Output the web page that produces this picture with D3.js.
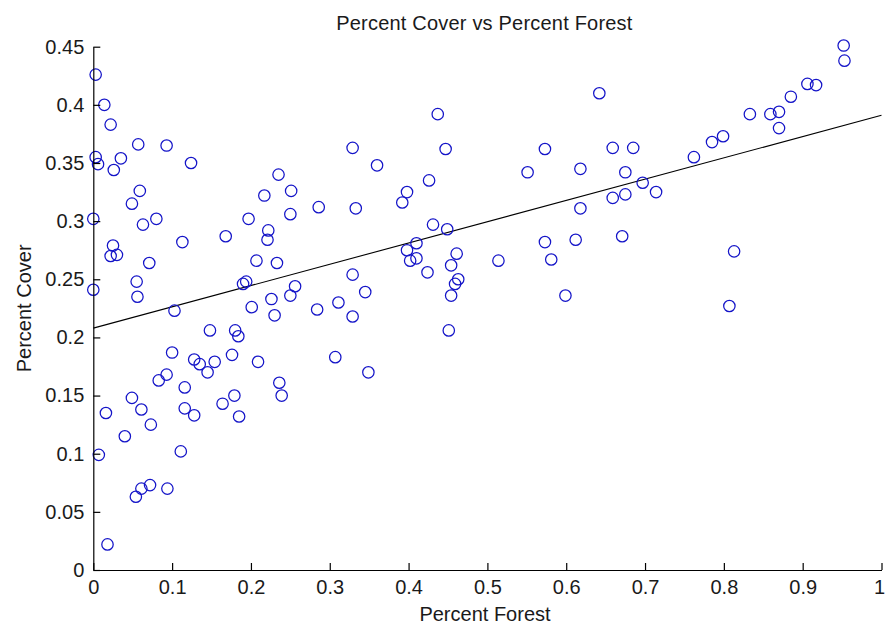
<!DOCTYPE html>
<html>
<head>
<meta charset="utf-8">
<script src="https://cdn.jsdelivr.net/npm/d3@7"></script>
<style>
  body { margin: 0; background: #fff; }
  svg text { font-family: "Liberation Sans", Arial, sans-serif; fill: #1a1a1a; }
</style>
</head>
<body>
<div class="content"></div>
<script>
const SVG_W = 886;
const SVG_H = 625;

// percent forest (x) and percent cover (y)
const forest = [
  0.003, 0.014, 0.022, 0.003, 0.006, 0.035, 0.026, 0.057, 0.093, 0.124,
  0.235, 0.217, 0.251, 0.059, 0.049, 0.000, 0.063, 0.080, 0.025, 0.022,
  0.030, 0.113, 0.071, 0.055, 0.056, 0.000, 0.103, 0.168, 0.197, 0.250,
  0.222, 0.221, 0.207, 0.233, 0.190, 0.194, 0.201, 0.226, 0.230, 0.250,
  0.256, 0.148, 0.180, 0.184, 0.100, 0.128, 0.135, 0.154, 0.176, 0.209,
  0.145, 0.093, 0.083, 0.116, 0.049, 0.016, 0.061, 0.116, 0.128, 0.073,
  0.040, 0.164, 0.179, 0.185, 0.236, 0.239, 0.007, 0.111, 0.054, 0.061,
  0.072, 0.094, 0.018, 0.437, 0.329, 0.447, 0.360, 0.426, 0.398, 0.392,
  0.551, 0.573, 0.618, 0.286, 0.333, 0.431, 0.449, 0.410, 0.398, 0.410,
  0.402, 0.461, 0.454, 0.424, 0.463, 0.459, 0.454, 0.451, 0.514, 0.573,
  0.581, 0.612, 0.599, 0.618, 0.329, 0.345, 0.284, 0.311, 0.329, 0.307,
  0.349, 0.642, 0.659, 0.685, 0.675, 0.697, 0.714, 0.675, 0.659, 0.762,
  0.785, 0.799, 0.833, 0.859, 0.870, 0.870, 0.885, 0.906, 0.917, 0.952,
  0.953, 0.671, 0.813, 0.807
];
const cover = [
  0.426, 0.400, 0.383, 0.355, 0.349, 0.354, 0.344, 0.366, 0.365, 0.350,
  0.340, 0.322, 0.326, 0.326, 0.315, 0.302, 0.297, 0.302, 0.279, 0.270,
  0.271, 0.282, 0.264, 0.248, 0.235, 0.241, 0.223, 0.287, 0.302, 0.306,
  0.292, 0.284, 0.266, 0.264, 0.246, 0.248, 0.226, 0.233, 0.219, 0.236,
  0.244, 0.206, 0.206, 0.201, 0.187, 0.181, 0.177, 0.179, 0.185, 0.179,
  0.170, 0.168, 0.163, 0.157, 0.148, 0.135, 0.138, 0.139, 0.133, 0.125,
  0.115, 0.143, 0.150, 0.132, 0.161, 0.150, 0.099, 0.102, 0.063, 0.070,
  0.073, 0.070, 0.022, 0.392, 0.363, 0.362, 0.348, 0.335, 0.325, 0.316,
  0.342, 0.362, 0.345, 0.312, 0.311, 0.297, 0.293, 0.281, 0.275, 0.268,
  0.266, 0.272, 0.262, 0.256, 0.250, 0.246, 0.236, 0.206, 0.266, 0.282,
  0.267, 0.284, 0.236, 0.311, 0.254, 0.239, 0.224, 0.230, 0.218, 0.183,
  0.170, 0.410, 0.363, 0.363, 0.342, 0.333, 0.325, 0.323, 0.320, 0.355,
  0.368, 0.373, 0.392, 0.392, 0.394, 0.380, 0.407, 0.418, 0.417, 0.451,
  0.438, 0.287, 0.274, 0.227
];

// least squares line as drawn in the figure (end points)
const fitX = [0, 1];
const fitY = [0.208, 0.391];

const xTicks = [0, 0.1, 0.2, 0.3, 0.4, 0.5, 0.6, 0.7, 0.8, 0.9, 1];
const yTicks = [0, 0.05, 0.1, 0.15, 0.2, 0.25, 0.3, 0.35, 0.4, 0.45];

const svg = d3.select(".content").append("svg")
    .attr("width", SVG_W).attr("height", SVG_H);

const plotL = 93.3, plotR = 881.5, plotT = 46.7, plotB = 570;

let xscale = d3.scaleLinear().domain([0, 1]).range([plotL, plotR]);
let yscale = d3.scaleLinear().domain([0, 0.45]).range([plotB, plotT]);

// title
svg.append("text")
    .attr("x", (plotL + plotR) / 2 - 3).attr("y", 30)
    .attr("text-anchor", "middle")
    .style("font-size", "20px")
    .style("letter-spacing", "0.2px")
    .text("Percent Cover vs Percent Forest");

// fit line
let line = d3.line().x(d => xscale(d[0])).y(d => yscale(d[1]));
svg.append("path")
    .datum(fitX.map((x, i) => [x, fitY[i]]))
    .attr("d", line)
    .attr("fill", "none")
    .attr("stroke", "#000")
    .attr("stroke-width", 1.1);

// points
svg.append("g").selectAll("circle")
    .data(forest.map((f, i) => ({x: f, y: cover[i]})))
    .join("circle")
    .attr("cx", d => xscale(d.x))
    .attr("cy", d => yscale(d.y))
    .attr("r", 5.7)
    .attr("fill", "none")
    .attr("stroke", "#1414c8")
    .attr("stroke-width", 1.25);

//x-axis
let xaxis = d3.axisBottom(xscale).tickValues(xTicks).tickFormat(d => String(d))
    .tickSizeInner(-7).tickSizeOuter(0).tickPadding(10);
let gx = svg.append("g").attr("transform", "translate(0," + plotB + ")").call(xaxis);
// last label sits against the right edge, as in the figure
gx.selectAll(".tick text").filter(d => d === 1).attr("text-anchor", "end").attr("x", 3);

//y-axis
let yaxis = d3.axisLeft(yscale).tickValues(yTicks).tickFormat(d => String(d))
    .tickSizeInner(-7).tickSizeOuter(0).tickPadding(9);
let gy = svg.append("g").attr("transform", "translate(" + plotL + ",0)").call(yaxis);

[gx, gy].forEach(g => {
    g.selectAll("text").style("font-size", "20px").attr("fill", "#1a1a1a")
        .style("font-family", "'Liberation Sans', Arial, sans-serif");
    g.selectAll("line, path").attr("stroke", "#000").attr("stroke-width", 1.2);
});

// axis labels
svg.append("text")
    .attr("x", 485).attr("y", 621)
    .attr("text-anchor", "middle")
    .style("font-size", "20px")
    .text("Percent Forest");
svg.append("text")
    .attr("transform", "translate(31," + (plotT + plotB) / 2 + ") rotate(-90)")
    .attr("text-anchor", "middle")
    .style("font-size", "20px")
    .text("Percent Cover");
</script>
</body>
</html>
